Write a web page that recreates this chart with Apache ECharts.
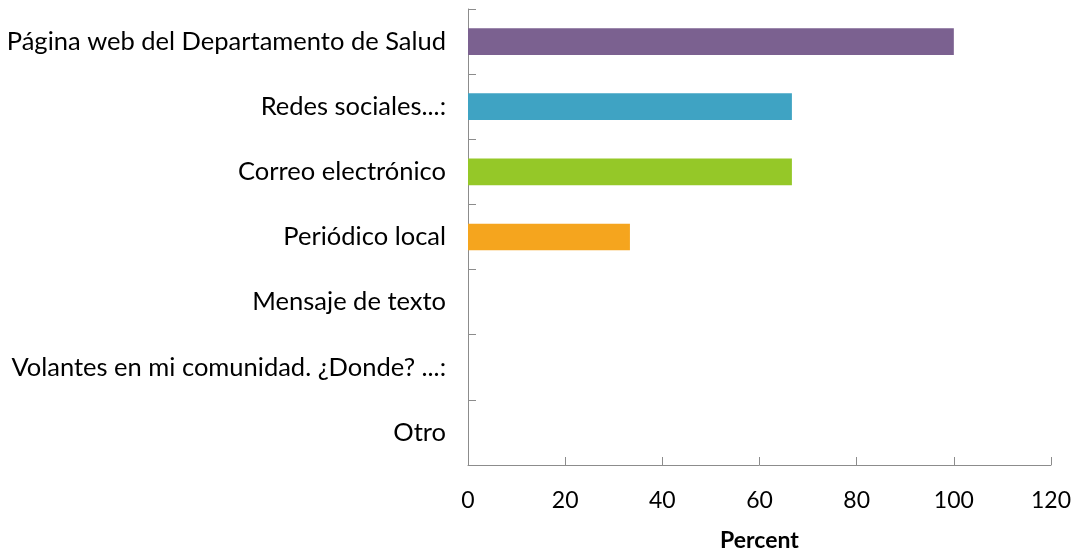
<!DOCTYPE html>
<html><head><meta charset="utf-8">
<script src="https://cdn.jsdelivr.net/npm/echarts@6/dist/echarts.min.js"></script>
<style>html,body{margin:0;padding:0;background:#fff}#c{width:1076px;height:553px}</style>
</head><body><div id="c"></div>
<script>
const categories = ["Página web del Departamento de Salud","Redes sociales...:","Correo electrónico","Periódico local","Mensaje de texto","Volantes en mi comunidad. ¿Donde? ...:","Otro"];
const values = [100, 66.67, 66.67, 33.33, 0, 0, 0];
const colors = ["#7B6190","#3FA3C3","#95C828","#F5A51E","#888888","#888888","#888888"];
const xTicks = {min:0, max:120, interval:20};
const axisColor = "#8C8C8C";
const font = "Lato, 'Open Sans', sans-serif";
const chart = echarts.init(document.getElementById('c'));
chart.setOption({
  animation:false,
  grid:{left:468, right:25, top:9, bottom:88, containLabel:false, outerBoundsMode:'none'},
  xAxis:{type:'value', min:xTicks.min, max:xTicks.max, interval:xTicks.interval,
    name:'Percent', nameLocation:'middle', nameGap:64,
    nameTextStyle:{fontFamily:font, fontSize:23, fontWeight:'bold', color:'#000'},
    axisLine:{show:true, lineStyle:{color:axisColor}},
    axisTick:{show:true, inside:true, length:8, lineStyle:{color:axisColor}},
    splitLine:{show:false},
    axisLabel:{fontFamily:font, fontSize:23, color:'#000', margin:24}},
  yAxis:{type:'category', data:categories, inverse:true,
    axisLine:{show:true, lineStyle:{color:axisColor}},
    axisTick:{show:true, inside:true, length:8, lineStyle:{color:axisColor}},
    axisLabel:{fontFamily:font, fontSize:25.5, color:'#000', margin:22}},
  series:[{type:'bar', barWidth:'41%',
    data: values.map((v,i)=>({value:v, itemStyle:{color:colors[i]}}))}]
});
</script></body></html>
